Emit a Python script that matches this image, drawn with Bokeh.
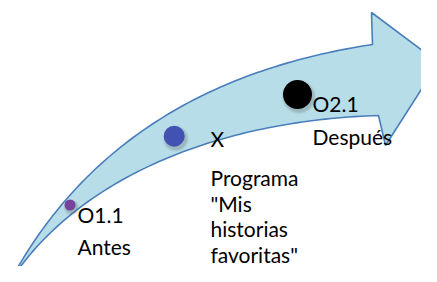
import numpy as np
from bokeh.plotting import figure
from bokeh.models import Range1d
from bokeh.core.properties import value
from bokeh.embed import file_html
from bokeh.resources import INLINE

# ---- data (image pixel coordinates, y grows downward) ----
stage_names = ["O1.1", "X", "O2.1"]
stage_x = [69.5, 173.7, 297.0]
stage_y = [204.5, 135.7, 94.0]
stage_r = [5.5, 10.5, 14.5]
stage_colors = ["#76429b", "#4152b3", "#000000"]

label_text = ["O1.1", "Antes", "X", "Programa", "\"Mis", "historias",
              "favoritas\"", "O2.1", "Después"]
label_x = [77, 77, 210, 210, 210, 210, 210, 312, 312]
label_y = [223, 255, 147, 186, 211.5, 237, 262.5, 112, 145]

# arrow shaft edges: cubic bezier control points
upper_ctrl_x = [10, 80, 200, 372]
upper_ctrl_y = [280, 150, 70, 44]
lower_ctrl_x = [10, 80, 220, 378]
lower_ctrl_y = [280, 175, 120, 115]
# arrow head: top barb, tip, bottom barb
head_x = [371, 438, 385]
head_y = [12, 62, 145]


def bezier(cx, cy, n=80):
    t = np.linspace(0, 1, n)
    b = [(1 - t) ** 3, 3 * t * (1 - t) ** 2, 3 * t ** 2 * (1 - t), t ** 3]
    x = sum(bi * c for bi, c in zip(b, cx))
    y = sum(bi * c for bi, c in zip(b, cy))
    return x, y


ux, uy = bezier(upper_ctrl_x, upper_ctrl_y)
lx, ly = bezier(lower_ctrl_x, lower_ctrl_y)
arrow_x = np.concatenate([ux, head_x, lx[::-1]])
arrow_y = np.concatenate([uy, head_y, ly[::-1]])

p = figure(width=421, height=266, output_backend="svg", toolbar_location=None,
           x_range=Range1d(0, 421), y_range=Range1d(266, 0),
           min_border=0, min_border_left=0, min_border_right=0,
           min_border_top=0, min_border_bottom=0)
p.axis.visible = False
p.grid.visible = False
p.outline_line_color = None
p.background_fill_color = "white"
p.border_fill_color = "white"

p.patch(arrow_x, arrow_y, fill_color="#b7dde8", line_color="#4a7ebb",
        line_width=1.6)

# soft shadows under the dots
for k, a in [(2.5, 0.08), (1.5, 0.10), (0.5, 0.12)]:
    p.circle([x + 1.5 for x in stage_x], [y + 2.5 for y in stage_y],
             radius=[r + k for r in stage_r], fill_color="#555555",
             fill_alpha=a, line_color=None)

p.circle(stage_x, stage_y, radius=stage_r, fill_color=stage_colors,
         line_color=None)

p.text(label_x, label_y, text=label_text, text_font=value("Lato"),
       text_font_size="21px", text_color="#000000",
       text_baseline="alphabetic", text_align="left", y_offset=-9)

open("out.html", "w").write(file_html(p, INLINE))
